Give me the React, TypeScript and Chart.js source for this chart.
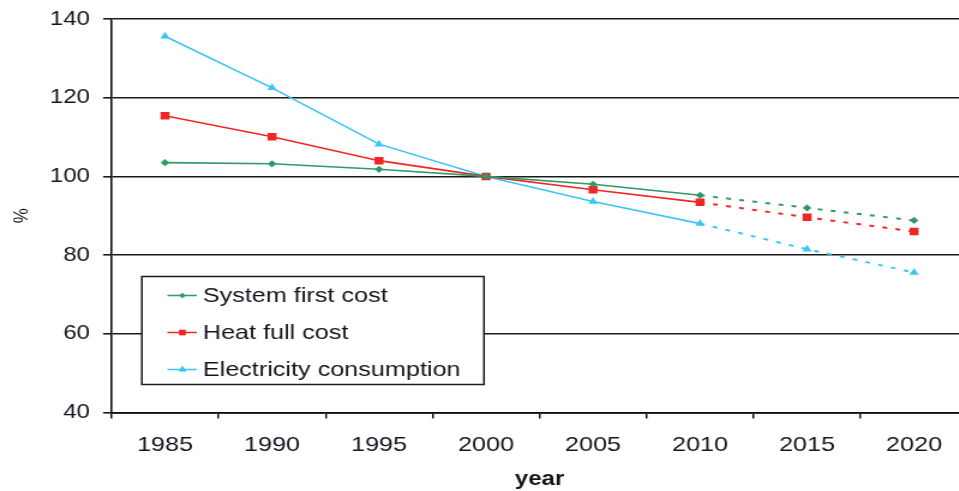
import React, { useEffect, useRef } from "react";
import { Chart, registerables } from "chart.js";

Chart.register(...registerables);

const years = ["1985", "1990", "1995", "2000", "2005", "2010", "2015", "2020"];
const systemFirstCost = [103.5, 103.2, 101.8, 100, 98.0, 95.2, 92.0, 88.8];
const heatFullCost = [115.4, 110.1, 104.0, 100, 96.6, 93.4, 89.6, 86.0];
const electricityConsumption = [135.6, 122.5, 108.2, 100, 93.6, 88.0, 81.5, 75.6];
const yTicks = [40, 60, 80, 100, 120, 140];
const forecastFromIndex = 5; // segments after 2010 are projections (dashed)

const GREEN = "#2f9a66";
const RED = "#f02626";
const CYAN = "#3cc4f4";
const FONT = '"Liberation Sans", Arial, sans-serif';
const TEXT = "#15151f";

const STRETCH = 1.2;
const W = 812;
const H = 491;

function drawMarker(ctx: CanvasRenderingContext2D, style: string, x: number, y: number, r: number) {
  ctx.beginPath();
  if (style === "rect") {
    const s = Math.SQRT1_2 * r;
    ctx.rect(x - s, y - s, 2 * s, 2 * s);
  } else if (style === "triangle") {
    const h = r;
    ctx.moveTo(x, y - h);
    ctx.lineTo(x + Math.sin(Math.PI * 2 / 3) * h, y + h / 2);
    ctx.lineTo(x - Math.sin(Math.PI * 2 / 3) * h, y + h / 2);
    ctx.closePath();
  } else {
    ctx.moveTo(x, y - r);
    ctx.lineTo(x + r, y);
    ctx.lineTo(x, y + r);
    ctx.lineTo(x - r, y);
    ctx.closePath();
  }
  ctx.fill();
}

const boxLegend = {
  id: "boxLegend",
  afterDraw(chart: any) {
    const ctx: CanvasRenderingContext2D = chart.ctx;
    const x0 = 118.2, y0 = 276.5, x1 = 403.3, y1 = 384.5;
    const rowsY = [295.5, 332.5, 369.5];
    ctx.save();
    ctx.fillStyle = "#ffffff";
    ctx.fillRect(x0, y0, x1 - x0, y1 - y0);
    ctx.strokeStyle = "#1a1a1a";
    ctx.lineWidth = 1.5;
    ctx.strokeRect(x0, y0, x1 - x0, y1 - y0);
    chart.data.datasets.forEach((ds: any, i: number) => {
      const y = rowsY[i];
      ctx.strokeStyle = ds.borderColor;
      ctx.lineWidth = 1.5;
      ctx.beginPath();
      ctx.moveTo(139.5, y);
      ctx.lineTo(164, y);
      ctx.stroke();
      ctx.fillStyle = ds.borderColor;
      drawMarker(ctx, ds.pointStyle, 152, y, ds.pointStyle === "rectRot" ? 2.8 : 4);
      ctx.fillStyle = TEXT;
      ctx.font = `21px ${FONT}`;
      ctx.textBaseline = "middle";
      ctx.textAlign = "left";
      ctx.fillText(ds.label, 169, y + 1);
    });
    ctx.restore();
  },
};

function makeDataset(label: string, data: number[], color: string, pointStyle: string, radius: number) {
  return {
    label,
    data,
    borderColor: color,
    backgroundColor: color,
    pointBackgroundColor: color,
    pointBorderColor: color,
    pointStyle,
    pointRadius: radius,
    pointBorderWidth: 0,
    borderWidth: 1.6,
    tension: 0,
    segment: {
      borderDash: (c: any) => (c.p0DataIndex >= forecastFromIndex ? [4, 7] : undefined),
      borderWidth: (c: any) => (c.p0DataIndex >= forecastFromIndex ? 2 : 1.6),
    },
  };
}

export default function App() {
  const ref = useRef<HTMLCanvasElement | null>(null);

  useEffect(() => {
    if (!ref.current) return;
    const chart = new Chart(ref.current, {
      type: "line",
      data: {
        labels: years,
        datasets: [
          makeDataset("System first cost", systemFirstCost, GREEN, "rectRot", 3.6),
          makeDataset("Heat full cost", heatFullCost, RED, "rect", 5.3),
          makeDataset("Electricity consumption", electricityConsumption, CYAN, "triangle", 4.5),
        ] as any,
      },
      options: {
        responsive: false,
        animation: false,
        devicePixelRatio: 1,
        layout: { padding: { top: 19, right: W - 806.3, left: 0, bottom: 0 } },
        plugins: { legend: { display: false }, tooltip: { enabled: false } },
        scales: {
          x: {
            type: "category",
            offset: true,
            afterFit: (s: any) => {
              s.height = H - 412.5;
            },
            grid: {
              display: true,
              offset: true,
              drawOnChartArea: false,
              drawTicks: true,
              tickLength: 6,
              color: "#111",
              lineWidth: 1.5,
            },
            border: { display: true, color: "#111", width: 1.8 },
            ticks: {
              color: TEXT,
              font: { family: FONT, size: 21 },
              padding: 14,
              maxRotation: 0,
              autoSkip: false,
            },
            title: {
              display: true,
              text: "year",
              color: TEXT,
              font: { family: FONT, size: 20, weight: "bold" },
              padding: { top: 0, bottom: 0 },
            },
          },
          y: {
            min: 40,
            max: 140,
            afterFit: (s: any) => {
              s.width = 92.9;
            },
            afterBuildTicks: (s: any) => {
              s.ticks = yTicks.map((v) => ({ value: v }));
            },
            grid: {
              color: "#1a1a1a",
              lineWidth: 1.6,
              tickLength: 7,
              drawTicks: true,
            },
            border: { display: true, color: "#111", width: 1.6 },
            ticks: {
              color: TEXT,
              font: { family: FONT, size: 20, lineHeight: 0.8 },
              padding: 11,
            },
            title: {
              display: true,
              text: "%",
              color: TEXT,
              font: { family: FONT, size: 17 },
              padding: { top: 8, bottom: 0 },
            },
          },
        },
      },
      plugins: [boxLegend],
    } as any);
    return () => chart.destroy();
  }, []);

  return (
    <div
      style={{
        position: "fixed",
        left: 0,
        top: 0,
        width: 959,
        height: 491,
        overflow: "hidden",
        background: "#fff",
      }}
    >
      <canvas
        ref={ref}
        width={W}
        height={H}
        style={{ transform: `scaleX(${STRETCH})`, transformOrigin: "0 0" }}
      />
    </div>
  );
}
